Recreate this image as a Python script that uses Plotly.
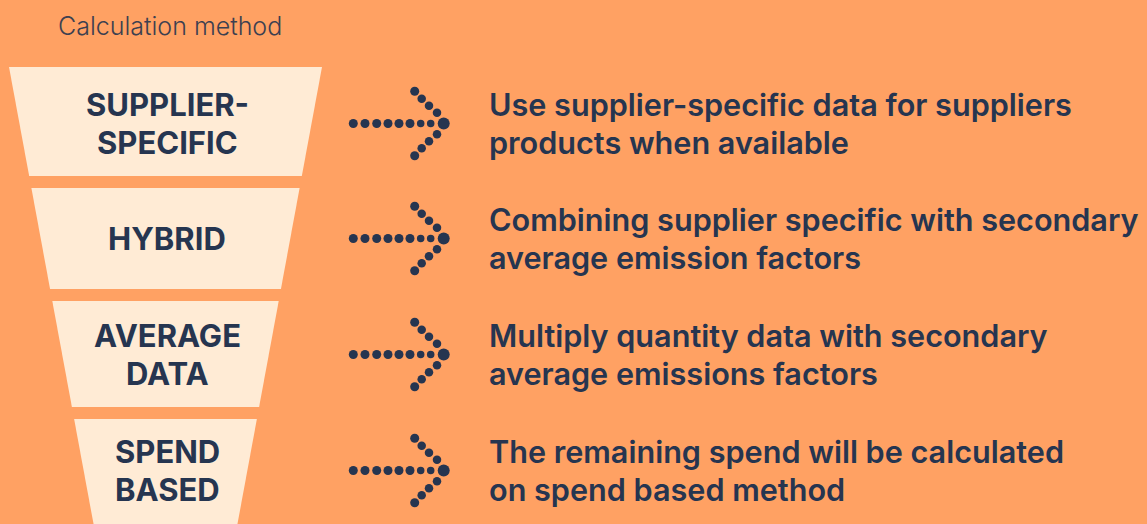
import plotly.graph_objects as go

# ---------------- data ----------------
title_text = "Calculation method"
methods = ["SUPPLIER-<br>SPECIFIC", "HYBRID", "AVERAGE<br>DATA", "SPEND<br>BASED"]
descriptions = [
    "Use supplier-specific data for suppliers<br>products when available",
    "Combining supplier specific with secondary<br>average emission factors",
    "Multiply quantity data with secondary<br>average emissions factors",
    "The remaining spend will be calculated<br>on spend based method",
]

# ---------------- style / layout constants ----------------
W, H = 1147, 524
BG = "#FFA163"
CREAM = "#FFEBD5"
NAVY = "#263550"
TITLE_COLOR = "#3C4050"
FONT = "Inter"

funnel_cx = 165.5
funnel_top_y = 67
funnel_top_half = 156.5
funnel_slope = 0.185          # half-width shrink per px downwards
band_edges = [(67, 176), (188, 289), (301, 407), (419, 530)]
row_y = [123.5, 238.5, 354.5, 470.5]
label_x = 167
label_pitch = 38.8
desc_x = 487
desc_pitch = 37.8

# arrow dot pattern (offsets from arrow origin), diameters
arrow_dots = (
    [(353.3, 0, 9), (365, 0, 9), (376.7, 0, 9), (388, 0, 9), (399, 0, 9), (410, 0, 9),
     (420.7, 0, 7.5), (430.7, 0, 7.5), (443.7, 0, 12)]
    + [(414.7, -32.3, 9), (421.7, -24.7, 8.5), (429, -17.7, 8.5), (437, -10.7, 8.5)]
    + [(414.7, 32.3, 9), (421.7, 24.7, 8.5), (429, 17.7, 8.5), (437, 10.7, 8.5)]
)

fig = go.Figure()


def half_width(y):
    return funnel_top_half - funnel_slope * (y - funnel_top_y)


# funnel bands
for (y0, y1) in band_edges:
    xs = [funnel_cx - half_width(y0), funnel_cx + half_width(y0),
          funnel_cx + half_width(y1), funnel_cx - half_width(y1), funnel_cx - half_width(y0)]
    ys = [y0, y0, y1, y1, y0]
    fig.add_trace(go.Scatter(x=xs, y=ys, mode="lines", fill="toself",
                             fillcolor=CREAM, line=dict(width=0), hoverinfo="skip",
                             showlegend=False))

# arrows
ax, ay, asz = [], [], []
for cy in row_y:
    for (dx, dy, s) in arrow_dots:
        ax.append(dx)
        ay.append(cy + dy)
        asz.append(s)
fig.add_trace(go.Scatter(x=ax, y=ay, mode="markers",
                         marker=dict(size=asz, color=NAVY, opacity=1, sizemode="diameter",
                                     line=dict(width=0)),
                         hoverinfo="skip", showlegend=False))

annotations = []
# title
annotations.append(dict(x=170, y=26, text=title_text, showarrow=False, xanchor="center",
                        yanchor="middle", font=dict(family=FONT, size=25, color=TITLE_COLOR, weight=300)))


def add_lines(text, x, cy, pitch, size, weight, anchor):
    lines = text.split("<br>")
    n = len(lines)
    for i, ln in enumerate(lines):
        y = cy + (i - (n - 1) / 2) * pitch
        annotations.append(dict(x=x, y=y, text=ln, showarrow=False, xanchor=anchor,
                                yanchor="middle",
                                font=dict(family=FONT, size=size, color=NAVY, weight=weight)))


for m, cy in zip(methods, row_y):
    add_lines(m, label_x, cy, label_pitch, 31, 700, "center")
for d, cy in zip(descriptions, row_y):
    add_lines(d, desc_x, cy, desc_pitch, 30.6, 600, "left")

fig.update_layout(
    width=W, height=H, margin=dict(l=0, r=0, t=0, b=0),
    paper_bgcolor=BG, plot_bgcolor=BG,
    xaxis=dict(range=[0, W], visible=False, fixedrange=True),
    yaxis=dict(range=[H, 0], visible=False, fixedrange=True),
    annotations=annotations,
    showlegend=False,
)

fig.write_html("out.html", config={"displayModeBar": False},
               post_script="document.body.style.margin='0';")
